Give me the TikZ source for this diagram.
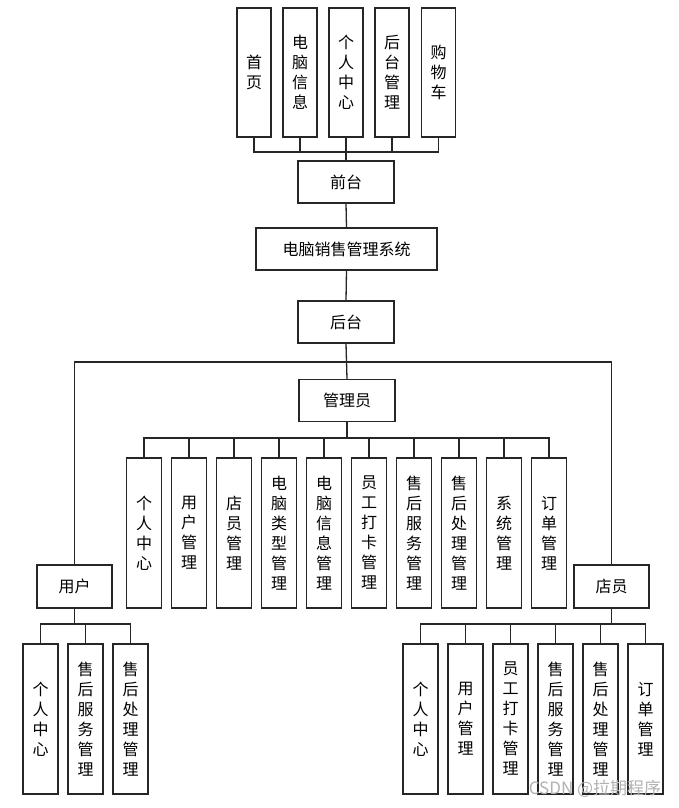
\documentclass[tikz,border=0pt]{standalone}
\usepackage{fontspec}
\newfontfamily\cjk{Noto Sans CJK SC}
\begin{document}
\begin{tikzpicture}[x=1pt,y=-1pt,
  box/.style={draw=black!85, line width=1.3pt, fill=white, inner sep=0pt, align=center,
    font=\cjk\fontsize{16}{20}\selectfont},
  hbox/.style={box, minimum width=96pt, minimum height=42pt},
  vtop/.style={box, minimum width=34pt, minimum height=129pt},
  vbox/.style={box, minimum width=35pt, minimum height=150pt},
  conn/.style={draw=black!85, line width=1.3pt}]
\fill[white] (0,0) rectangle (678,808);
\useasboundingbox (0,0) rectangle (678,808);
% top row
\node[vtop] (t1) at (254,72.5) {首\\页};
\node[vtop] (t2) at (300,72.5) {电\\脑\\信\\息};
\node[vtop] (t3) at (346,72.5) {个\\人\\中\\心};
\node[vtop] (t4) at (392,72.5) {后\\台\\管\\理};
\node[vtop] (t5) at (438.5,72.5) {购\\物\\车};
\node[hbox] (qt) at (346,182) {前台};
\node[box, minimum width=181pt, minimum height=42pt] (sys) at (346.5,249) {电脑销售管理系统};
\node[hbox] (ht) at (346,322) {后台};
\node[hbox] (gly) at (347,400.5) {管理员};
% admin children
\node[vbox] (a1) at (144,533) {个\\人\\中\\心};
\node[vbox] (a2) at (189,533) {用\\户\\管\\理};
\node[vbox] (a3) at (234,533) {店\\员\\管\\理};
\node[vbox] (a4) at (279,533) {电\\脑\\类\\型\\管\\理};
\node[vbox] (a5) at (324,533) {电\\脑\\信\\息\\管\\理};
\node[vbox] (a6) at (369,533) {员\\工\\打\\卡\\管\\理};
\node[vbox] (a7) at (414,533) {售\\后\\服\\务\\管\\理};
\node[vbox] (a8) at (459,533) {售\\后\\处\\理\\管\\理};
\node[vbox] (a9) at (504,533) {系\\统\\管\\理};
\node[vbox] (a10) at (549,533) {订\\单\\管\\理};
% user
\node[box, minimum width=75pt, minimum height=43pt] (yh) at (74.5,586.5) {用户};
\node[vbox] (u1) at (40.5,719) {个\\人\\中\\心};
\node[vbox] (u2) at (85.5,719) {售\\后\\服\\务\\管\\理};
\node[vbox] (u3) at (130.5,719) {售\\后\\处\\理\\管\\理};
% clerk
\node[box, minimum width=75pt, minimum height=43pt] (dy) at (611.5,586.5) {店员};
\node[vbox] (d1) at (420.5,719) {个\\人\\中\\心};
\node[vbox] (d2) at (465.5,719) {用\\户\\管\\理};
\node[vbox] (d3) at (510.5,719) {员\\工\\打\\卡\\管\\理};
\node[vbox] (d4) at (555.5,719) {售\\后\\服\\务\\管\\理};
\node[vbox] (d5) at (600.5,719) {售\\后\\处\\理\\管\\理};
\node[vbox] (d6) at (645.5,719) {订\\单\\管\\理};
% buses
\coordinate (qbus) at (346,152);
\coordinate (hbus) at (346,362);
\coordinate (abus) at (347,438);
\coordinate (ubus) at (74.5,624);
\coordinate (dbus) at (611.5,624);
\foreach \n in {t1,t2,t3,t4,t5} \draw[conn] (\n.south) |- (qbus);
\draw[conn] (qbus) -- (qt.north);
\draw[conn] (qt.south) -- (sys.north);
\draw[conn] (sys.south) -- (ht.north);
\draw[conn] (ht.south) -- (gly.north);
\draw[conn] (hbus) -| (yh.north);
\draw[conn] (hbus) -| (dy.north);
\draw[conn] (gly.south) -- (abus);
\foreach \n in {a1,a2,a3,a4,a5,a6,a7,a8,a9,a10} \draw[conn] (abus) -| (\n.north);
\draw[conn] (yh.south) -- (ubus);
\foreach \n in {u1,u2,u3} \draw[conn] (ubus) -| (\n.north);
\draw[conn] (dy.south) -- (dbus);
\foreach \n in {d1,d2,d3,d4,d5,d6} \draw[conn] (dbus) -| (\n.north);
% watermark
\node[font=\cjk\fontsize{17}{17}\selectfont, text=black!30, inner sep=0pt] (wm) at (595,789) {CSDN @拉期程序};
\end{tikzpicture}
\end{document}
